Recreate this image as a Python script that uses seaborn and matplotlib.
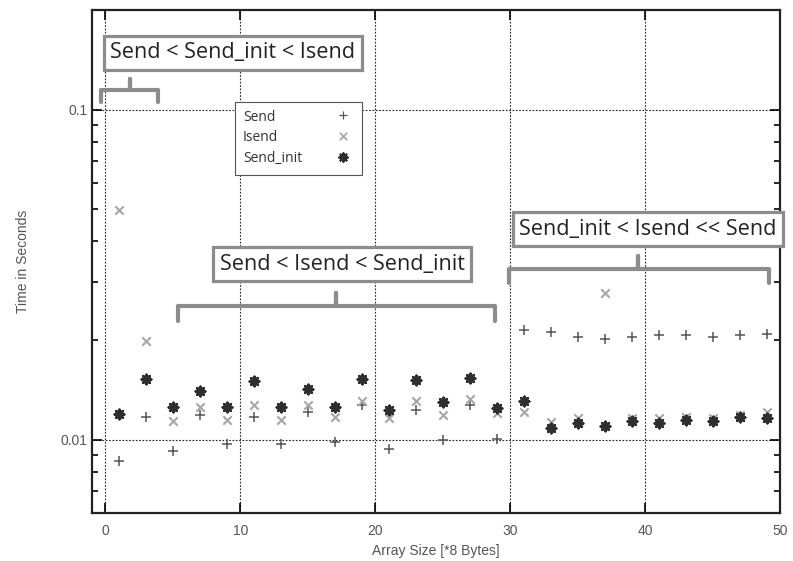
import matplotlib
matplotlib.use("Agg")
import matplotlib.pyplot as plt
import numpy as np
import pandas as pd
import seaborn as sns
from matplotlib.patches import Rectangle
from matplotlib.ticker import FixedLocator, NullFormatter

# array size (x 8 bytes)
sizes = [1, 3, 5, 7, 9, 11, 13, 15, 17, 19, 21, 23, 25,
         27, 29, 31, 33, 35, 37, 39, 41, 43, 45, 47, 49]

send = [0.00865, 0.01175, 0.00927, 0.0119, 0.00973, 0.01175, 0.0097, 0.0121,
        0.00987, 0.0127, 0.0094, 0.01233, 0.00998, 0.0127, 0.01007,
        0.0215, 0.0212, 0.0204, 0.0202, 0.0205, 0.0207, 0.0207, 0.0205, 0.0208, 0.0209]
isend = [0.0495, 0.0199, 0.0114, 0.0126, 0.0115, 0.01277, 0.0115, 0.01277,
         0.01175, 0.01313, 0.01164, 0.01313, 0.0119, 0.0133, 0.01207,
         0.01215, 0.0113, 0.0116, 0.0279, 0.0116, 0.0116, 0.0117, 0.0116, 0.0119, 0.0121]
send_init = [0.012, 0.01528, 0.0126, 0.01406, 0.0126, 0.01507, 0.0126, 0.01426,
             0.0126, 0.01528, 0.01233, 0.0152, 0.0130, 0.01542, 0.0125,
             0.0131, 0.01087, 0.0112, 0.01101, 0.0114, 0.0112, 0.0115, 0.0114, 0.0117, 0.0116]

series_names = ["Send", "Isend", "Send_init"]

# annotation boxes: text, x center, y center
notes = ["Send < Send_init < Isend", "Send < Isend < Send_init", "Send_init < Isend << Send"]
note_x = [9.45, 17.56, 40.2]
note_y = [0.1486, 0.0340, 0.0434]

# brackets: x left, x right, x of the tick, y of bar, y of ends, y of tick top
br_x0 = [-0.3, 5.4, 29.9]
br_x1 = [3.9, 28.9, 49.2]
br_xc = [1.8, 17.1, 39.5]
br_y = [0.1149, 0.0254, 0.0329]
br_yend = [0.1057, 0.0229, 0.0298]
br_ytop = [0.124, 0.0278, 0.036]

df = pd.DataFrame({
    "size": sizes * 3,
    "time": send + isend + send_init,
    "kind": np.repeat(series_names, len(sizes)),
})

sns.set_style("ticks")
plt.rcParams["font.family"] = ["Liberation Sans", "DejaVu Sans"]
box_font = ["Open Sans", "DejaVu Sans"]

fig = plt.figure(figsize=(7.93, 5.61), dpi=100)
ax = fig.add_axes([0.116, 0.0856, 0.8676, 0.8964])

styles = {
    "Send": dict(marker="+", color="#555555", s=42, linewidth=1.1),
    "Isend": dict(marker="x", color="#a6a6a6", s=36, linewidth=1.5),
    "Send_init": dict(marker=(8, 2, 0), color="#2e2e2e", s=45, linewidth=1.9),
}
for name in series_names:
    sub = df[df["kind"] == name]
    sns.scatterplot(data=sub, x="size", y="time", ax=ax, legend=False, **styles[name])

ax.set_yscale("log")
ax.set_xlim(-1, 50)
ax.set_ylim(0.006, 0.2)

ax.xaxis.set_major_locator(FixedLocator([0, 10, 20, 30, 40, 50]))
ax.yaxis.set_major_locator(FixedLocator([0.01, 0.1]))
ax.yaxis.set_minor_locator(FixedLocator([0.006, 0.007, 0.008, 0.009, 0.02, 0.03, 0.04,
                                         0.05, 0.06, 0.07, 0.08, 0.09, 0.2]))
ax.yaxis.set_minor_formatter(NullFormatter())
ax.set_yticklabels(["0.01", "0.1"])
ax.tick_params(which="both", direction="in", top=True, right=True, colors="black",
               labelcolor="#555555", labelsize=10, width=1.2)
ax.tick_params(which="major", length=7)
ax.tick_params(which="minor", length=4)
ax.tick_params(axis="x", pad=8)

for x in [0, 10, 20, 30, 40]:
    ax.axvline(x, color="#222222", linestyle=(0, (1.5, 1.5)), linewidth=0.8, zorder=0)
for y in [0.01, 0.1]:
    ax.axhline(y, color="#222222", linestyle=(0, (1.5, 1.5)), linewidth=0.8, zorder=0)

for sp in ax.spines.values():
    sp.set_linewidth(1.6)
    sp.set_color("#222222")

ax.set_xlabel("Array Size [*8 Bytes]", color="#555555", fontsize=10, labelpad=4)
ax.set_ylabel("Time in Seconds", color="#555555", fontsize=10, labelpad=22)

# gnuplot-style key: labels left, samples right
ax.add_patch(Rectangle((0.208, 0.672), 0.184, 0.145, transform=ax.transAxes,
                       fc="white", ec="#555555", lw=0.8, zorder=6))
key_y = [0.787, 0.746, 0.704]
for name, ky in zip(series_names, key_y):
    ax.text(0.2195, ky, name, transform=ax.transAxes, ha="left", va="center",
            fontsize=10, color="#333333", family=box_font, zorder=7)
    st = styles[name]
    ax.scatter([0.365], [ky + 0.004], transform=ax.transAxes, marker=st["marker"],
               color=st["color"], s=st["s"] * 0.8, linewidth=st["linewidth"] * 0.8,
               zorder=7, clip_on=False)

for i in range(3):
    bx = [br_x0[i], br_x0[i], br_xc[i], br_xc[i], br_xc[i], br_x1[i], br_x1[i]]
    by = [br_yend[i], br_y[i], br_y[i], br_ytop[i], br_y[i], br_y[i], br_yend[i]]
    ax.plot(bx, by, color="#8c8c8c", linewidth=3, solid_joinstyle="round",
            solid_capstyle="round", clip_on=False, zorder=4)
    ax.text(note_x[i], note_y[i], notes[i], ha="center", va="center", fontsize=15.6,
            color="#222222", family=box_font, zorder=5, clip_on=False,
            bbox=dict(boxstyle="square,pad=0.3", fc="white", ec="#8c8c8c", lw=2.3))

fig.savefig("out.png", dpi=100)
